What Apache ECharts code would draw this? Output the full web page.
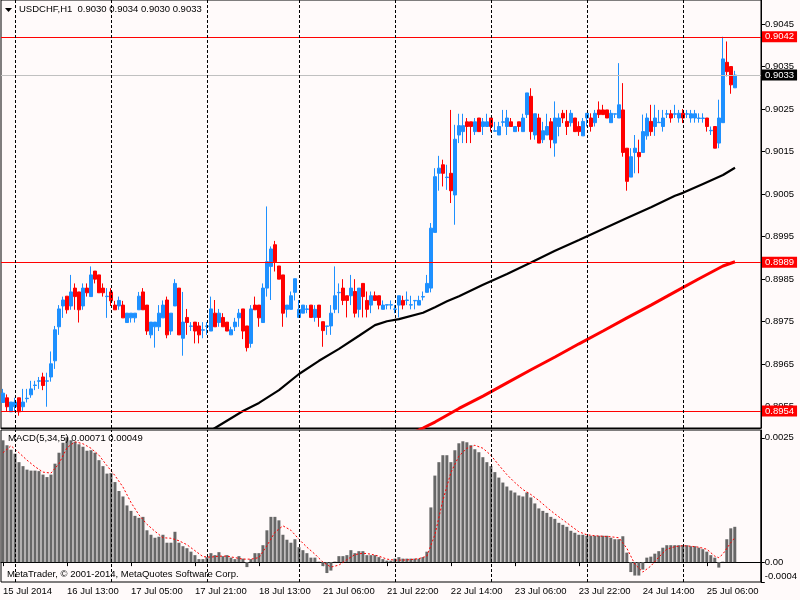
<!DOCTYPE html>
<html><head><meta charset="utf-8">
<script src="https://cdn.jsdelivr.net/npm/echarts@6/dist/echarts.min.js"></script>
<style>html,body{margin:0;padding:0;background:#FFFAFA}#c{width:800px;height:600px}</style>
</head><body><div id="c"></div><script>
// ---- data (USDCHF, H1) ----
const opens=[
0.89560,0.89571,0.89538,0.89550,0.89571,0.89550,0.89569,0.89578,0.89600,0.89610,
0.89620,0.89610,0.89620,0.89658,0.89738,0.89787,0.89810,0.89787,0.89829,0.89820,
0.89787,0.89829,0.89809,0.89869,0.89860,0.89829,0.89809,0.89820,0.89789,0.89787,
0.89789,0.89748,0.89759,0.89759,0.89778,0.89820,0.89789,0.89719,0.89738,0.89738,
0.89759,0.89801,0.89728,0.89787,0.89829,0.89711,0.89760,0.89739,0.89749,0.89740,
0.89730,0.89739,0.89728,0.89770,0.89748,0.89760,0.89749,0.89719,0.89738,0.89759,
0.89780,0.89740,0.89699,0.89789,0.89789,0.89748,0.89829,0.89880,0.89931,0.89881,
0.89860,0.89779,0.89779,0.89819,0.89760,0.89770,0.89779,0.89789,0.89760,0.89789,
0.89750,0.89739,0.89740,0.89779,0.89818,0.89829,0.89811,0.89811,0.89821,0.89779,
0.89840,0.89800,0.89789,0.89811,0.89811,0.89779,0.89789,0.89789,0.89779,0.89789,
0.89800,0.89800,0.89789,0.89799,0.89789,0.89808,0.89819,0.89829,0.89960,0.90099,
0.90119,0.90089,0.90099,0.90048,0.90189,0.90197,0.90220,0.90220,0.90197,0.90229,
0.90209,0.90209,0.90229,0.90198,0.90189,0.90219,0.90209,0.90220,0.90197,0.90220,
0.90197,0.90237,0.90280,0.90189,0.90229,0.90178,0.90189,0.90220,0.90170,0.90209,
0.90240,0.90221,0.90218,0.90229,0.90209,0.90187,0.90229,0.90229,0.90218,0.90248,
0.90248,0.90248,0.90218,0.90238,0.90229,0.90248,0.90158,0.90090,0.90148,0.90148,
0.90148,0.90187,0.90221,0.90209,0.90218,0.90209,0.90238,0.90239,0.90238,0.90229,
0.90240,0.90238,0.90229,0.90229,0.90228,0.90228,0.90229,0.90199,0.90209,0.90170,
0.90218,0.90360,0.90350,0.90300];
const closes=[
0.89582,0.89550,0.89561,0.89561,0.89538,0.89561,0.89570,0.89592,0.89601,0.89611,
0.89600,0.89611,0.89651,0.89731,0.89780,0.89801,0.89778,0.89820,0.89809,0.89778,
0.89829,0.89818,0.89860,0.89850,0.89818,0.89818,0.89810,0.89799,0.89778,0.89800,
0.89759,0.89770,0.89770,0.89770,0.89810,0.89778,0.89728,0.89749,0.89749,0.89770,
0.89789,0.89719,0.89770,0.89840,0.89719,0.89749,0.89748,0.89740,0.89728,0.89719,
0.89731,0.89740,0.89780,0.89738,0.89770,0.89738,0.89728,0.89731,0.89749,0.89770,
0.89728,0.89689,0.89780,0.89778,0.89759,0.89829,0.89891,0.89921,0.89891,0.89850,
0.89770,0.89789,0.89811,0.89851,0.89779,0.89789,0.89780,0.89760,0.89779,0.89760,
0.89729,0.89740,0.89770,0.89811,0.89819,0.89800,0.89800,0.89829,0.89770,0.89829,
0.89809,0.89779,0.89811,0.89800,0.89789,0.89789,0.89790,0.89790,0.89780,0.89811,
0.89789,0.89801,0.89790,0.89800,0.89800,0.89809,0.89840,0.89970,0.90091,0.90111,
0.90099,0.90090,0.90058,0.90179,0.90211,0.90211,0.90209,0.90209,0.90220,0.90197,
0.90220,0.90220,0.90209,0.90199,0.90209,0.90220,0.90229,0.90209,0.90209,0.90209,
0.90229,0.90288,0.90197,0.90239,0.90170,0.90199,0.90209,0.90178,0.90229,0.90229,
0.90229,0.90209,0.90240,0.90197,0.90197,0.90221,0.90240,0.90209,0.90240,0.90237,
0.90237,0.90229,0.90240,0.90239,0.90260,0.90148,0.90080,0.90138,0.90158,0.90138,
0.90197,0.90229,0.90197,0.90229,0.90219,0.90229,0.90239,0.90229,0.90239,0.90240,
0.90229,0.90239,0.90239,0.90239,0.90229,0.90229,0.90209,0.90200,0.90158,0.90229,
0.90368,0.90338,0.90307,0.90330];
const lows=[
0.89560,0.89538,0.89538,0.89538,0.89529,0.89538,0.89560,0.89571,0.89589,0.89592,
0.89589,0.89550,0.89609,0.89639,0.89719,0.89759,0.89769,0.89778,0.89778,0.89748,
0.89778,0.89809,0.89809,0.89840,0.89818,0.89809,0.89759,0.89787,0.89778,0.89778,
0.89759,0.89748,0.89748,0.89748,0.89778,0.89778,0.89719,0.89711,0.89689,0.89728,
0.89759,0.89711,0.89719,0.89787,0.89719,0.89670,0.89719,0.89728,0.89699,0.89699,
0.89711,0.89719,0.89728,0.89738,0.89738,0.89738,0.89728,0.89719,0.89728,0.89738,
0.89709,0.89680,0.89689,0.89778,0.89738,0.89748,0.89809,0.89801,0.89868,0.89850,
0.89738,0.89760,0.89779,0.89800,0.89760,0.89770,0.89770,0.89760,0.89750,0.89738,
0.89691,0.89719,0.89719,0.89770,0.89770,0.89789,0.89760,0.89789,0.89760,0.89760,
0.89760,0.89760,0.89770,0.89800,0.89779,0.89779,0.89779,0.89779,0.89770,0.89760,
0.89779,0.89789,0.89779,0.89779,0.89789,0.89800,0.89819,0.89819,0.89960,0.90058,
0.90068,0.90060,0.90029,0.89978,0.90170,0.90170,0.90170,0.90170,0.90189,0.90197,
0.90189,0.90209,0.90197,0.90197,0.90189,0.90209,0.90189,0.90209,0.90197,0.90197,
0.90197,0.90229,0.90178,0.90178,0.90170,0.90170,0.90189,0.90158,0.90138,0.90186,
0.90217,0.90189,0.90209,0.90197,0.90187,0.90187,0.90209,0.90197,0.90209,0.90229,
0.90237,0.90229,0.90218,0.90229,0.90229,0.90138,0.90058,0.90090,0.90099,0.90099,
0.90148,0.90178,0.90187,0.90187,0.90218,0.90197,0.90229,0.90218,0.90229,0.90218,
0.90217,0.90229,0.90218,0.90218,0.90218,0.90218,0.90197,0.90189,0.90158,0.90158,
0.90218,0.90327,0.90286,0.90300];
const highs=[
0.89592,0.89579,0.89561,0.89571,0.89571,0.89592,0.89592,0.89611,0.89611,0.89620,
0.89630,0.89630,0.89680,0.89740,0.89789,0.89809,0.89810,0.89860,0.89840,0.89820,
0.89840,0.89840,0.89880,0.89869,0.89860,0.89840,0.89829,0.89829,0.89799,0.89809,
0.89799,0.89770,0.89770,0.89770,0.89820,0.89829,0.89789,0.89749,0.89749,0.89789,
0.89800,0.89809,0.89770,0.89850,0.89829,0.89820,0.89780,0.89749,0.89749,0.89749,
0.89749,0.89749,0.89809,0.89801,0.89780,0.89770,0.89749,0.89738,0.89759,0.89780,
0.89780,0.89740,0.89789,0.89809,0.89789,0.89840,0.90021,0.89927,0.89940,0.89881,
0.89860,0.89789,0.89821,0.89851,0.89801,0.89789,0.89789,0.89789,0.89789,0.89789,
0.89750,0.89740,0.89789,0.89880,0.89840,0.89850,0.89811,0.89860,0.89850,0.89829,
0.89840,0.89821,0.89821,0.89821,0.89811,0.89800,0.89790,0.89800,0.89789,0.89811,
0.89811,0.89821,0.89811,0.89800,0.89811,0.89821,0.89860,0.89982,0.90111,0.90140,
0.90131,0.90119,0.90248,0.90213,0.90239,0.90239,0.90229,0.90220,0.90229,0.90229,
0.90229,0.90239,0.90229,0.90220,0.90220,0.90248,0.90248,0.90229,0.90209,0.90220,
0.90239,0.90288,0.90299,0.90239,0.90239,0.90220,0.90239,0.90229,0.90268,0.90240,
0.90248,0.90248,0.90248,0.90229,0.90221,0.90229,0.90240,0.90240,0.90248,0.90268,
0.90260,0.90248,0.90248,0.90239,0.90358,0.90311,0.90158,0.90158,0.90189,0.90178,
0.90237,0.90240,0.90260,0.90260,0.90248,0.90248,0.90248,0.90248,0.90260,0.90248,
0.90250,0.90248,0.90248,0.90248,0.90240,0.90240,0.90229,0.90209,0.90209,0.90272,
0.90420,0.90409,0.90350,0.90340];
// moving averages read at sampled bars: [bar index, price]
const maBlack=[[50,0.89482],[53,0.89500],[60,0.89540],[64,0.89559],[69,0.89589],[74,0.89627],[79,0.89658],[84,0.89686],[89,0.89717],[93,0.89742],[96,0.89751],[99,0.89756],[105,0.89771],[108,0.89784],[111,0.89798],[114,0.89810],[120,0.89837],[126,0.89862],[132,0.89889],[138,0.89917],[144,0.89942],[150,0.89968],[156,0.89994],[162,0.90019],[168,0.90046],[170,0.90053],[175,0.90074],[180,0.90095],[183,0.90112]];
const maRed=[[103,0.89491],[105,0.89500],[108,0.89514],[114,0.89546],[120,0.89575],[126,0.89606],[132,0.89637],[138,0.89667],[144,0.89698],[150,0.89728],[156,0.89759],[162,0.89789],[168,0.89820],[174,0.89851],[180,0.89881],[183,0.89891]];
// MACD(5,34,5) histogram per bar
const macdHist=[
0.00245,0.00235,0.00226,0.00218,0.00201,0.00193,0.00186,0.00184,0.00184,0.00183,
0.00176,0.00171,0.00176,0.00198,0.00220,0.00240,0.00251,0.00245,0.00242,0.00237,
0.00232,0.00224,0.00225,0.00220,0.00205,0.00193,0.00178,0.00179,0.00161,0.00143,
0.00132,0.00114,0.00103,0.00093,0.00089,0.00091,0.00064,0.00055,0.00049,0.00051,
0.00055,0.00039,0.00039,0.00061,0.00039,0.00032,0.00028,0.00021,0.00014,0.00006,
0.00006,0.00010,0.00018,0.00014,0.00020,0.00012,0.00014,0.00009,0.00006,0.00012,
0.00007,-0.00010,0.00006,0.00018,0.00018,0.00034,0.00064,0.00091,0.00091,0.00084,
0.00055,0.00045,0.00039,0.00046,0.00030,0.00024,0.00018,0.00009,0.00009,0.00001,
-0.00008,-0.00022,-0.00017,0.00001,0.00012,0.00012,0.00014,0.00024,0.00018,0.00022,
0.00022,0.00014,0.00014,0.00014,0.00010,0.00006,0.00003,0.00003,0.00007,0.00010,
0.00007,0.00007,0.00007,0.00007,0.00007,0.00010,0.00021,0.00110,0.00174,0.00201,
0.00215,0.00215,0.00201,0.00225,0.00239,0.00243,0.00241,0.00235,0.00227,0.00221,
0.00211,0.00201,0.00193,0.00181,0.00170,0.00160,0.00152,0.00144,0.00140,0.00134,
0.00132,0.00140,0.00130,0.00118,0.00108,0.00103,0.00099,0.00091,0.00087,0.00079,
0.00075,0.00071,0.00063,0.00059,0.00055,0.00055,0.00053,0.00053,0.00053,0.00053,
0.00053,0.00053,0.00049,0.00046,0.00046,0.00052,0.00019,-0.00020,-0.00027,-0.00027,
-0.00015,0.00009,0.00011,0.00017,0.00022,0.00029,0.00034,0.00034,0.00034,0.00034,
0.00034,0.00034,0.00032,0.00032,0.00029,0.00026,0.00021,0.00014,0.00009,-0.00011,
0.00001,0.00046,0.00068,0.00071];
// signal line read at sampled bars: [bar index, value]
const macdSignal=[[0,0.00220],[2,0.00234],[4,0.00220],[6,0.00205],[8,0.00192],[10,0.00181],[12,0.00179],[14,0.00198],[16,0.00230],[18,0.00242],[20,0.00238],[22,0.00229],[24,0.00215],[26,0.00194],[28,0.00174],[30,0.00151],[32,0.00120],[34,0.00095],[36,0.00076],[38,0.00062],[40,0.00049],[42,0.00048],[44,0.00043],[46,0.00035],[48,0.00023],[50,0.00011],[52,0.00010],[54,0.00012],[56,0.00012],[58,0.00009],[60,0.00006],[62,0.00006],[64,0.00009],[66,0.00033],[68,0.00060],[70,0.00073],[72,0.00064],[74,0.00046],[76,0.00030],[78,0.00016],[80,0.00000],[82,-0.00010],[84,-0.00006],[86,0.00005],[88,0.00015],[90,0.00018],[92,0.00016],[94,0.00012],[96,0.00006],[98,0.00004],[100,0.00004],[102,0.00005],[104,0.00007],[106,0.00012],[108,0.00055],[110,0.00124],[112,0.00180],[114,0.00213],[116,0.00229],[118,0.00235],[120,0.00229],[122,0.00215],[124,0.00195],[126,0.00176],[128,0.00160],[130,0.00146],[132,0.00136],[134,0.00124],[136,0.00110],[138,0.00097],[140,0.00085],[142,0.00073],[144,0.00061],[146,0.00055],[148,0.00053],[150,0.00052],[152,0.00051],[154,0.00049],[156,0.00028],[158,-0.00004],[160,-0.00020],[162,-0.00008],[164,0.00010],[166,0.00026],[168,0.00031],[170,0.00033],[172,0.00032],[174,0.00030],[176,0.00026],[178,0.00012],[179,0.00009],[180,0.00016],[182,0.00039],[183,0.00049]];
// time axis labels (bar index -> text) and day separators (bar index)
const timeTickIdx=[0,16,32,48,64,80,96,112,128,144,160,176];
const timeTickText=['15 Jul 2014','16 Jul 13:00','17 Jul 05:00','17 Jul 21:00','18 Jul 13:00','21 Jul 06:00','21 Jul 22:00','22 Jul 14:00','23 Jul 06:00','23 Jul 22:00','24 Jul 14:00','25 Jul 06:00'];
const daySeparatorIdx=[3,27,51,74,98,122,146,170];
const priceTicks=[0.8955,0.8965,0.8975,0.8985,0.8995,0.9005,0.9015,0.9025,0.9035,0.9045];
const redLevels=[0.9042,0.8989,0.8954];
const bidLevel=0.9033;
const macdTicks=[-0.0004,0,0.0025];

// ---- chart ----
const FONT='Liberation Sans', FS=9.5;
const SLOTS=190;
const cats=Array.from({length:SLOTS},(_,i)=>String(i));
const tickMap={}; timeTickIdx.forEach((k,j)=>{tickMap[k]=timeTickText[j];});
const candles=opens.map((o,i)=>[o,closes[i],lows[i],highs[i]]);
const N=opens.length;
const sepData=daySeparatorIdx.map(i=>({xAxis:i,label:{show:false},lineStyle:{color:'#000',type:[3,2],width:1}}));
function levelSeries(values,color,bg){
  return {type:'line',xAxisIndex:0,yAxisIndex:0,data:[],showSymbol:false,silent:true,z:5,
    markLine:{silent:true,symbol:['none','none'],animation:false,precision:6,
      lineStyle:{color:color,type:'solid',width:1},
      label:{show:true,position:'end',distance:1,color:'#fff',backgroundColor:bg,padding:[1,3,0,3],fontSize:FS,fontFamily:FONT,
        formatter:p=>Number(p.value).toFixed(4)},
      data:values.map(v=>({yAxis:v}))}};
}
const chart=echarts.init(document.getElementById('c'),null,{renderer:'canvas'});
const axisCommon={axisLine:{show:true,lineStyle:{color:'#000',width:1}},splitLine:{show:false}};
chart.setOption({
  animation:false,
  backgroundColor:'#FFFAFA',
  textStyle:{fontFamily:FONT},
  grid:[
    {left:1,right:39,top:0,height:428,show:true,borderColor:'#000',borderWidth:1,backgroundColor:'#FFFAFA'},
    {left:1,right:39,top:430,height:152,show:true,borderColor:'#000',borderWidth:1,backgroundColor:'#FFFAFA'}
  ],
  xAxis:[
    {type:'category',gridIndex:0,data:cats,boundaryGap:true,axisLine:{show:true,lineStyle:{color:'#000'}},axisTick:{show:false},axisLabel:{show:false},splitLine:{show:false}},
    {type:'category',gridIndex:1,data:cats,boundaryGap:true,axisLine:{show:true,lineStyle:{color:'#000'}},
     axisTick:{show:true,alignWithLabel:true,interval:(i)=>tickMap[i]!==undefined,length:4,lineStyle:{color:'#000'}},
     axisLabel:{show:true,interval:(i)=>tickMap[i]!==undefined,formatter:(v)=>tickMap[Number(v)]||'',align:'left',margin:4,color:'#000',fontSize:FS,fontFamily:FONT,hideOverlap:false},
     splitLine:{show:false}}
  ],
  yAxis:[
    Object.assign({type:'value',gridIndex:0,position:'right',min:0.8950,max:0.905065,
      axisTick:{show:true,customValues:priceTicks,length:4,lineStyle:{color:'#000'}},
      axisLabel:{customValues:priceTicks,formatter:v=>v.toFixed(4),color:'#000',fontSize:FS,fontFamily:FONT,margin:4}},axisCommon),
    Object.assign({type:'value',gridIndex:1,position:'right',min:-0.0004,max:0.002657,
      axisTick:{show:true,customValues:macdTicks,length:4,lineStyle:{color:'#000'}},
      axisLabel:{customValues:[macdTicks[0]+0.00012,0,0.0025],formatter:v=>v<0?macdTicks[0].toFixed(4):(v===0?'0.00':v.toFixed(4)),color:'#000',fontSize:FS,fontFamily:FONT,margin:4}},axisCommon)
  ],
  series:[
    levelSeries([bidLevel],'#C0C0C0','#000000'),
    levelSeries(redLevels,'#FF0000','#FF0000'),
    {type:'candlestick',xAxisIndex:0,yAxisIndex:0,data:candles,barWidth:3,
     itemStyle:{color:'#1E90FF',color0:'#FF0000',borderColor:'#1E90FF',borderColor0:'#FF0000',borderWidth:1},
     markLine:{silent:true,symbol:['none','none'],animation:false,data:sepData},z:3},
    {type:'line',xAxisIndex:0,yAxisIndex:0,data:maBlack,showSymbol:false,lineStyle:{color:'#000',width:2.2},itemStyle:{color:'#000'},z:4},
    {type:'line',xAxisIndex:0,yAxisIndex:0,data:maRed,showSymbol:false,lineStyle:{color:'#FF0000',width:3},itemStyle:{color:'#FF0000'},z:4},
    {type:'bar',xAxisIndex:1,yAxisIndex:1,data:macdHist,barWidth:3,itemStyle:{color:'#676767'},
     markLine:{silent:true,symbol:['none','none'],animation:false,data:sepData},z:3},
    {type:'line',xAxisIndex:1,yAxisIndex:1,data:macdSignal,showSymbol:false,lineStyle:{color:'#FF0000',width:1,type:[2,2]},itemStyle:{color:'#FF0000'},z:4}
  ],
  graphic:[
    {type:'polygon',shape:{points:[[5,8],[12,8],[8.5,12]]},style:{fill:'#000'},z:100},
    {type:'text',left:19,top:4,z:100,style:{text:'USDCHF,H1  '+[opens[N-1],highs[N-1],lows[N-1],closes[N-1]].map(v=>v.toFixed(4)).join(' '),fill:'#000',font:FS+'px "'+FONT+'"'}},
    {type:'text',left:8,top:433,z:100,style:{text:'MACD(5,34,5) '+macdHist[N-1].toFixed(5)+' '+macdSignal[macdSignal.length-1][1].toFixed(5),fill:'#000',font:FS+'px "'+FONT+'"'}},
    {type:'text',left:7,top:569,z:100,style:{text:'MetaTrader, \u00a9 2001-2014, MetaQuotes Software Corp.',fill:'#000',font:FS+'px "'+FONT+'"'}}
  ]
});
</script></body></html>
